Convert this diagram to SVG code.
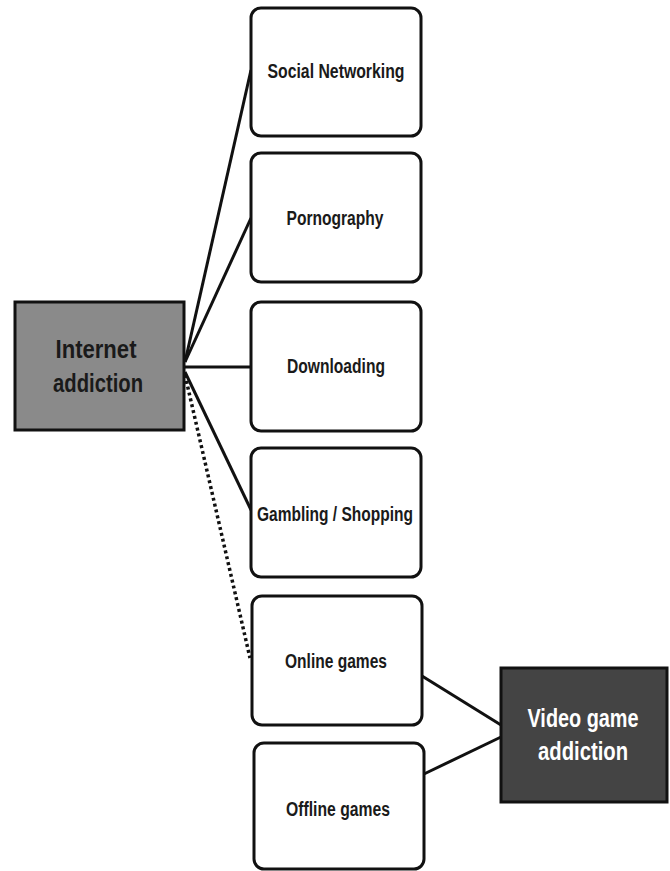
<svg xmlns="http://www.w3.org/2000/svg" width="670" height="871" viewBox="0 0 670 871">
<style>
.box{fill:#ffffff;stroke:#111111;stroke-width:3}
.lbl{font-family:"Liberation Sans",Arial,sans-serif;font-weight:bold;font-size:19.5px;fill:#1a1a1a;text-anchor:middle}
.big{font-family:"Liberation Sans",Arial,sans-serif;font-weight:bold;font-size:25px;text-anchor:middle}
.ln{stroke:#111111;stroke-width:3;fill:none}
.dot{stroke:#111111;stroke-width:3.5;fill:none;stroke-dasharray:3 3}
</style>
<rect width="670" height="871" fill="#ffffff"/>
<g id="connectors">
<line class="ln" x1="185" y1="362" x2="251" y2="70"/>
<line class="ln" x1="185" y1="362" x2="251" y2="218"/>
<line class="ln" x1="185" y1="367" x2="251" y2="367"/>
<line class="ln" x1="185" y1="372" x2="251" y2="510"/>
<line class="dot" x1="185" y1="375" x2="250" y2="658"/>
<line class="ln" x1="422" y1="676" x2="501" y2="725"/>
<line class="ln" x1="424" y1="774" x2="501" y2="737"/>
</g>
<g id="internet-addiction">
<rect x="15" y="302" width="169" height="128" fill="#8a8a8a" stroke="#111111" stroke-width="3"/>
<text class="big" x="96" y="358" fill="#1a1a1a" textLength="81" lengthAdjust="spacingAndGlyphs">Internet</text>
<text class="big" x="98" y="392" fill="#1a1a1a" textLength="90" lengthAdjust="spacingAndGlyphs">addiction</text>
</g>
<g id="social-networking">
<rect class="box" x="251" y="8" width="170" height="128" rx="10"/>
<text class="lbl" x="336" y="78" textLength="137" lengthAdjust="spacingAndGlyphs">Social Networking</text>
</g>
<g id="pornography">
<rect class="box" x="251" y="153" width="170" height="129" rx="10"/>
<text class="lbl" x="335" y="225" textLength="97" lengthAdjust="spacingAndGlyphs">Pornography</text>
</g>
<g id="downloading">
<rect class="box" x="251" y="302" width="170" height="129" rx="10"/>
<text class="lbl" x="336" y="373" textLength="98" lengthAdjust="spacingAndGlyphs">Downloading</text>
</g>
<g id="gambling-shopping">
<rect class="box" x="251" y="448" width="170" height="129" rx="10"/>
<text class="lbl" x="335" y="521" textLength="156" lengthAdjust="spacingAndGlyphs">Gambling / Shopping</text>
</g>
<g id="online-games">
<rect class="box" x="252" y="596" width="170" height="129" rx="10"/>
<text class="lbl" x="336" y="668" textLength="102" lengthAdjust="spacingAndGlyphs">Online games</text>
</g>
<g id="offline-games">
<rect class="box" x="254" y="743" width="170" height="126" rx="10"/>
<text class="lbl" x="338" y="816" textLength="104" lengthAdjust="spacingAndGlyphs">Offline games</text>
</g>
<g id="video-game-addiction">
<rect x="501" y="668" width="166" height="134" fill="#444444" stroke="#111111" stroke-width="3"/>
<text class="big" x="583" y="727" fill="#ffffff" textLength="111" lengthAdjust="spacingAndGlyphs">Video game</text>
<text class="big" x="583" y="760" fill="#ffffff" textLength="90" lengthAdjust="spacingAndGlyphs">addiction</text>
</g>
</svg>
